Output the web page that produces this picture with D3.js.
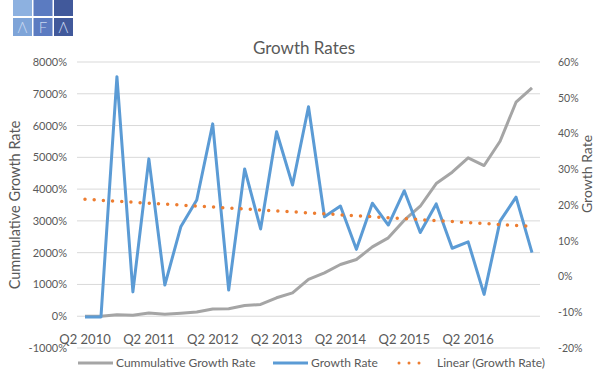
<!DOCTYPE html>
<html>
<head>
<meta charset="utf-8">
<script src="https://cdn.jsdelivr.net/npm/d3@7"></script>
<style>
  body { margin: 0; background: #fff; }
  svg text { font-family: Lato, "Open Sans", sans-serif; fill: #595959; }
</style>
</head>
<body>
<svg id="chart" width="610" height="385"></svg>
<script>
'use strict';

// quarters Q2 2010 .. Q2 2017
const quarters = [
  "Q2 2010", "Q3 2010", "Q4 2010", "Q1 2011", "Q2 2011", "Q3 2011", "Q4 2011", "Q1 2012",
  "Q2 2012", "Q3 2012", "Q4 2012", "Q1 2013", "Q2 2013", "Q3 2013", "Q4 2013", "Q1 2014",
  "Q2 2014", "Q3 2014", "Q4 2014", "Q1 2015", "Q2 2015", "Q3 2015", "Q4 2015", "Q1 2016",
  "Q2 2016", "Q3 2016", "Q4 2016", "Q1 2017", "Q2 2017"
];
const shownLabels = ["Q2 2010", "Q2 2011", "Q2 2012", "Q2 2013", "Q2 2014", "Q2 2015", "Q2 2016"];

// % values
const cumulative = [
  0, 0, 50, 30, 100, 60, 90, 130, 230, 235, 335, 370, 580, 735, 1160,
  1366, 1627, 1784, 2184, 2467, 3021, 3461, 4176, 4531, 4984, 4742, 5507, 6734, 7187
];
const growth = [
  -11.3, -11.3, 55.9, -4.3, 32.9, -2.4, 13.9, 21.4, 42.7, -3.8, 30.1, 13.3, 40.5, 25.6, 47.5,
  16.7, 19.7, 7.6, 20.5, 14.4, 24, 12.3, 20.3, 7.9, 9.7, -5, 15.5, 22.2, 6.7
];
const trendEnds = [21.6, 14.0];

const leftTicks = [-1000, 0, 1000, 2000, 3000, 4000, 5000, 6000, 7000, 8000];
const rightTicks = [-20, -10, 0, 10, 20, 30, 40, 50, 60];

const svg = d3.select("#chart");

const x = d3.scalePoint().domain(quarters).range([85, 532]);
const yLeft = d3.scaleLinear().domain([-1000, 8000]).range([348, 62]);
const yRight = d3.scaleLinear().domain([-20, 60]).range([348, 62]);

// logo
const logoCols = ["#8db1e0", "#5b7bc1", "#41599b"];
const logoRows = [0, 18];
const logo = svg.append("g");
logoRows.forEach((ly, r) => {
  logoCols.forEach((c, i) => {
    logo.append("rect")
      .attr("x", 13 + i * 20.5).attr("y", ly)
      .attr("width", 19).attr("height", r === 0 ? 16 : 18)
      .attr("fill", r === 1 && i === 0 ? "#7ea4d8" : c);
  });
});
["Λ", "F", "Λ"].forEach((t, i) => {
  logo.append("text")
    .attr("x", 22.5 + i * 20.5).attr("y", 33)
    .attr("text-anchor", "middle")
    .style("font-size", "15px").style("font-weight", 300)
    .style("fill", "#c9d8f0")
    .text(t);
});

// title
svg.append("text")
  .attr("x", 304).attr("y", 54)
  .attr("text-anchor", "middle")
  .style("font-size", "17px")
  .text("Growth Rates");

// gridlines
svg.append("g")
  .selectAll("line")
  .data(leftTicks)
  .enter()
  .append("line")
  .attr("x1", 77).attr("x2", 540)
  .attr("y1", d => yLeft(d)).attr("y2", d => yLeft(d))
  .attr("stroke", "#d9d9d9")
  .attr("stroke-width", 1);

// left axis
const leftAxis = svg.append("g")
  .attr("transform", "translate(70,0)")
  .call(d3.axisLeft(yLeft).tickValues(leftTicks).tickSize(0).tickPadding(3).tickFormat(d => d + "%"));
leftAxis.select(".domain").remove();
leftAxis.selectAll("text").style("font-size", "11px").style("fill", "#595959");

// right axis
const rightAxis = svg.append("g")
  .attr("transform", "translate(555,0)")
  .call(d3.axisRight(yRight).tickValues(rightTicks).tickSize(0).tickPadding(3).tickFormat(d => d + "%"));
rightAxis.select(".domain").remove();
rightAxis.selectAll("text").style("font-size", "10.5px").style("fill", "#595959");

// category labels
svg.append("g")
  .selectAll("text")
  .data(shownLabels)
  .enter()
  .append("text")
  .attr("x", d => x(d))
  .attr("y", 344)
  .attr("text-anchor", "middle")
  .style("font-size", "13px")
  .text(d => d);

// axis titles
svg.append("text")
  .attr("transform", "translate(20,205) rotate(-90)")
  .attr("text-anchor", "middle")
  .style("font-size", "14.5px")
  .text("Cummulative  Growth Rate");

svg.append("text")
  .attr("transform", "translate(592,174) rotate(-90)")
  .attr("text-anchor", "middle")
  .style("font-size", "14px")
  .text("Growth Rate");

// series
const cumLine = d3.line().x((d, i) => x(quarters[i])).y(d => yLeft(d));
const growthLine = d3.line().x((d, i) => x(quarters[i])).y(d => yRight(d));

svg.append("path")
  .datum(cumulative)
  .attr("d", cumLine)
  .attr("fill", "none")
  .attr("stroke", "#a5a5a5")
  .attr("stroke-width", 3)
  .attr("stroke-linejoin", "round");

svg.append("path")
  .datum(growth)
  .attr("d", growthLine)
  .attr("fill", "none")
  .attr("stroke", "#5b9bd5")
  .attr("stroke-width", 3)
  .attr("stroke-linejoin", "round");

svg.append("line")
  .attr("x1", x(quarters[0])).attr("y1", yRight(trendEnds[0]))
  .attr("x2", x(quarters[quarters.length - 1])).attr("y2", yRight(trendEnds[1]))
  .attr("stroke", "#ed7d31")
  .attr("stroke-width", 3.5)
  .attr("stroke-linecap", "round")
  .attr("stroke-dasharray", "0 9.2");

// legend
const legendItems = [
  { label: "Cummulative Growth Rate", color: "#a5a5a5", x: 78, dotted: false },
  { label: "Growth Rate", color: "#5b9bd5", x: 273, dotted: false },
  { label: "Linear  (Growth Rate)", color: "#ed7d31", x: 399, dotted: true }
];
const legend = svg.append("g");
legendItems.forEach(it => {
  legend.append("line")
    .attr("x1", it.x).attr("x2", it.dotted ? it.x + 30 : it.x + 35)
    .attr("y1", 363).attr("y2", 363)
    .attr("stroke", it.color)
    .attr("stroke-width", 3)
    .attr("stroke-linecap", it.dotted ? "round" : "butt")
    .attr("stroke-dasharray", it.dotted ? "0 10" : null);
  legend.append("text")
    .attr("x", it.x + 38)
    .attr("y", 367)
    .style("font-size", "12px")
    .text(it.label);
});
</script>
</body>
</html>
